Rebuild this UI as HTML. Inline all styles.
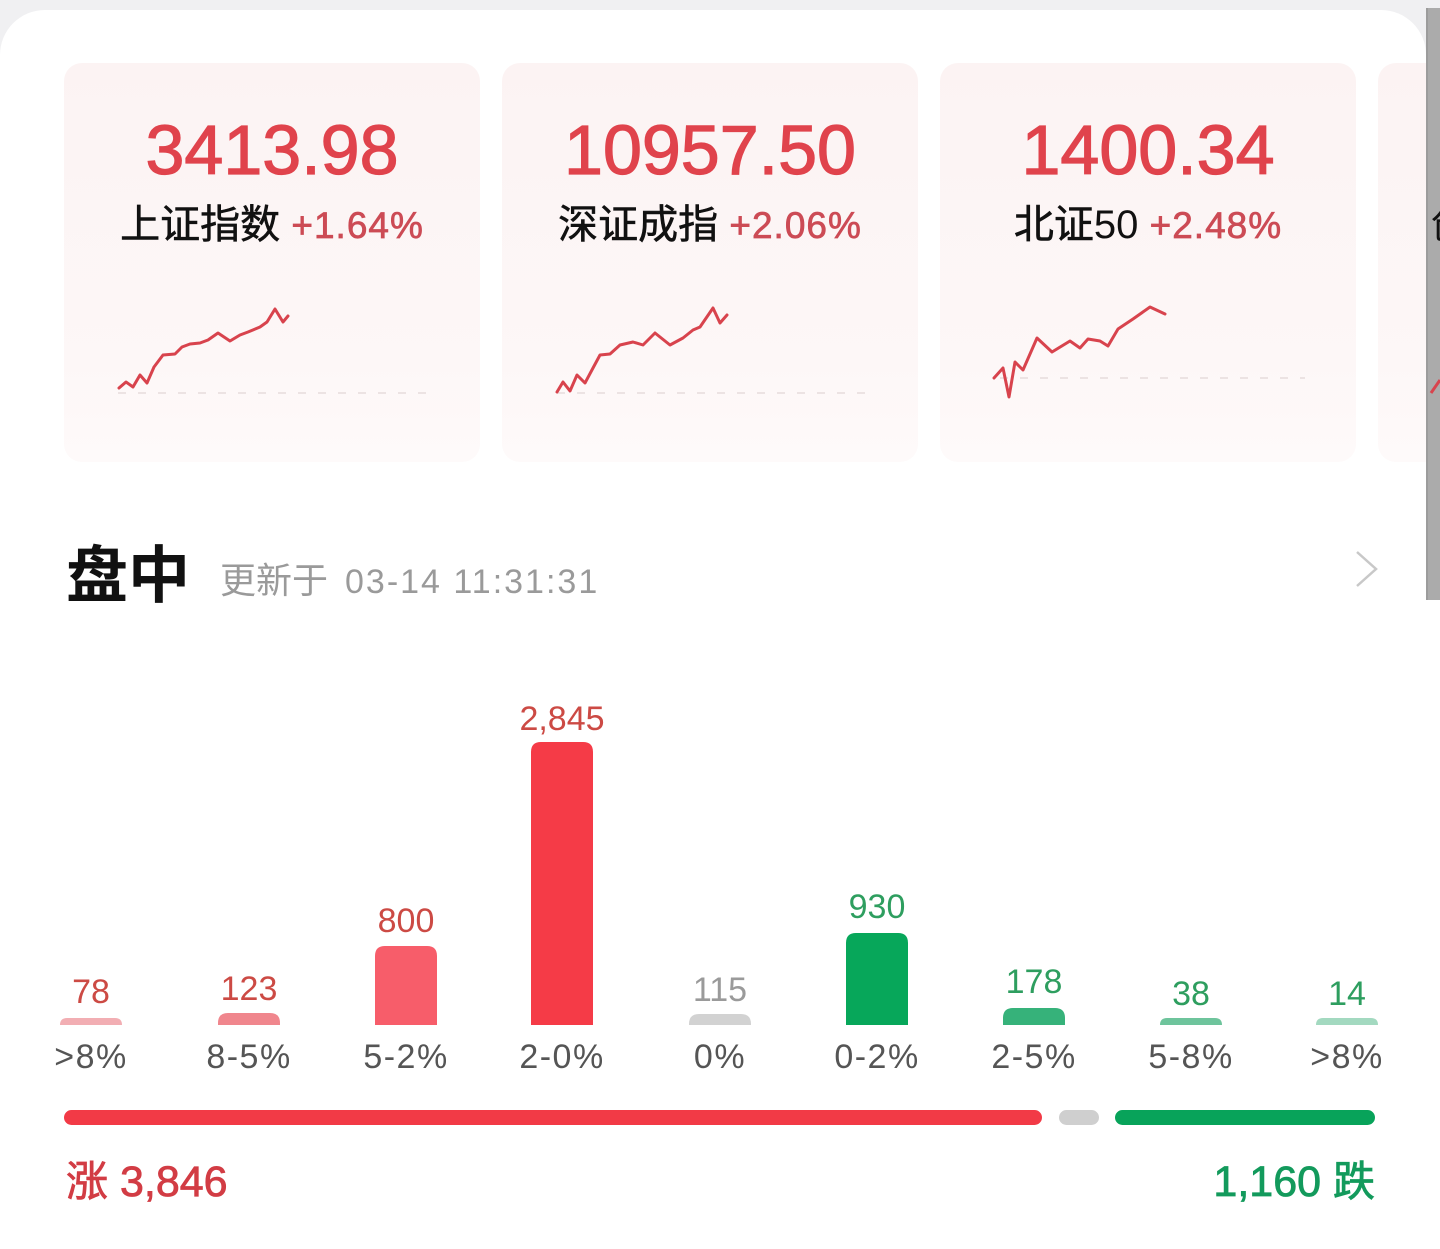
<!DOCTYPE html>
<html><head><meta charset="utf-8">
<style>
html,body{margin:0;padding:0;background:#fff;}
svg{display:block;}
text{font-family:"Liberation Sans","Noto Sans CJK SC",sans-serif;}
</style></head>
<body>
<svg width="1440" height="1249" viewBox="0 0 1440 1249" xmlns="http://www.w3.org/2000/svg">
<defs>
<linearGradient id="cg" x1="0" y1="0" x2="0" y2="1">
<stop offset="0" stop-color="#fcf3f3"/>
<stop offset="0.75" stop-color="#fdf7f7"/>
<stop offset="1" stop-color="#fefafa"/>
</linearGradient>
</defs>
<rect x="0" y="0" width="1440" height="1249" fill="#f0f0f2"/>
<rect x="0" y="10" width="1426" height="1300" rx="45" ry="45" fill="#ffffff"/>
<rect x="1426" y="600" width="14" height="649" fill="#ffffff"/>

<!-- cards -->
<rect x="64" y="63" width="416" height="399" rx="18" fill="url(#cg)"/>
<rect x="502" y="63" width="416" height="399" rx="18" fill="url(#cg)"/>
<rect x="940" y="63" width="416" height="399" rx="18" fill="url(#cg)"/>
<rect x="1378" y="63" width="416" height="399" rx="18" fill="url(#cg)"/>

<!-- big numbers -->
<g stroke="#e0434c" stroke-width="1.2">
<text x="272" y="174" font-size="70" fill="#e0434c" text-anchor="middle">3413.98</text>
<text x="710" y="174" font-size="70" fill="#e0434c" text-anchor="middle">10957.50</text>
<text x="1148" y="174" font-size="70" fill="#e0434c" text-anchor="middle">1400.34</text>
</g>

<!-- subtitles -->
<text x="272" y="238" text-anchor="middle"><tspan font-size="40" fill="#111" stroke="#111" stroke-width="0.6" font-family="'Noto Sans CJK SC',sans-serif">上证指数</tspan><tspan font-size="37" fill="#cc4b55" stroke="#cc4b55" stroke-width="0.7" letter-spacing="1"> +1.64%</tspan></text>
<text x="710" y="238" text-anchor="middle"><tspan font-size="40" fill="#111" stroke="#111" stroke-width="0.6" font-family="'Noto Sans CJK SC',sans-serif">深证成指</tspan><tspan font-size="37" fill="#cc4b55" stroke="#cc4b55" stroke-width="0.7" letter-spacing="1"> +2.06%</tspan></text>
<text x="1148" y="238" text-anchor="middle"><tspan font-size="40" fill="#111" stroke="#111" stroke-width="0.6" font-family="'Noto Sans CJK SC',sans-serif">北证</tspan><tspan font-size="40" fill="#111">50</tspan><tspan font-size="37" fill="#cc4b55" stroke="#cc4b55" stroke-width="0.7" letter-spacing="1"> +2.48%</tspan></text>

<!-- dashed baselines -->
<line x1="118" y1="393" x2="430" y2="393" stroke="#e6dcdc" stroke-width="1.5" stroke-dasharray="8 12"/>
<line x1="557" y1="393" x2="870" y2="393" stroke="#e6dcdc" stroke-width="1.5" stroke-dasharray="8 12"/>
<line x1="1000" y1="378" x2="1305" y2="378" stroke="#e6dcdc" stroke-width="1.5" stroke-dasharray="8 12"/>

<!-- sparklines -->
<polyline fill="none" stroke="#d8434d" stroke-width="3" stroke-linejoin="round" stroke-linecap="round"
points="119,388 126,382 133,387 140,375 147,383 154,367 163,355 175,354 182,347 190,344 200,343 208,340 218,333 230,341 240,335 248,332 260,327 267,322 275,309 283,322 288,316"/>
<polyline fill="none" stroke="#d8434d" stroke-width="3" stroke-linejoin="round" stroke-linecap="round"
points="557,392 563,382 570,391 577,375 585,383 593,368 600,355 610,354 620,345 633,342 643,345 655,333 670,345 683,338 693,330 700,327 713,308 720,323 727,315"/>
<polyline fill="none" stroke="#d8434d" stroke-width="3" stroke-linejoin="round" stroke-linecap="round"
points="994,378 1003,368 1009,397 1015,362 1023,370 1037,338 1052,352 1070,341 1080,348 1088,339 1100,341 1108,346 1118,329 1133,319 1150,307 1165,314"/>

<!-- right gray band -->
<rect x="1426" y="8" width="14" height="592" fill="#ababab"/>
<rect x="1426" y="8" width="2" height="592" fill="#9c9c9c"/>
<text x="1431" y="238" font-size="40" fill="#111" font-family="'Noto Sans CJK SC',sans-serif">创业板指</text>
<polyline fill="none" stroke="#d8434d" stroke-width="3" points="1431,393 1440,380"/>

<!-- title -->
<text x="66" y="597" font-size="62" font-weight="bold" fill="#111" font-family="'Noto Sans CJK SC',sans-serif">盘中</text>
<text x="220" y="593" font-size="36" fill="#9a9a9a" font-family="'Noto Sans CJK SC',sans-serif">更新于</text>
<text x="345" y="593" font-size="34" fill="#9a9a9a" letter-spacing="2">03-14 11:31:31</text>
<polyline fill="none" stroke="#c8c8c8" stroke-width="2.5" points="1357,552 1376,569 1357,586"/>

<!-- bars -->
<path d="M60 1025 V1025 Q60 1018 67 1018 H115 Q122 1018 122 1025 Z" fill="#f2aeb3"/>
<path d="M218 1025 V1023 Q218 1013 228 1013 H270 Q280 1013 280 1023 V1025 Z" fill="#f0868d"/>
<path d="M375 1025 V956 Q375 946 385 946 H427 Q437 946 437 956 V1025 Z" fill="#f75d6a"/>
<path d="M531 1025 V752 Q531 742 541 742 H583 Q593 742 593 752 V1025 Z" fill="#f53b47"/>
<path d="M689 1025 V1024 Q689 1014 699 1014 H741 Q751 1014 751 1024 V1025 Z" fill="#d2d2d2"/>
<path d="M846 1025 V943 Q846 933 856 933 H898 Q908 933 908 943 V1025 Z" fill="#07a75a"/>
<path d="M1003 1025 V1018 Q1003 1008 1013 1008 H1055 Q1065 1008 1065 1018 V1025 Z" fill="#36b27a"/>
<path d="M1160 1025 V1025 Q1160 1018 1167 1018 H1215 Q1222 1018 1222 1025 Z" fill="#6ec49c"/>
<path d="M1316 1025 V1025 Q1316 1018 1323 1018 H1371 Q1378 1018 1378 1025 Z" fill="#a3d9c0"/>

<!-- value labels -->
<g font-size="34" text-anchor="middle">
<text x="91" y="1003" fill="#cc4a44">78</text>
<text x="249" y="1000" fill="#cc4a44">123</text>
<text x="406" y="932" fill="#cc4a44">800</text>
<text x="562" y="730" fill="#cc4a44">2,845</text>
<text x="720" y="1001" fill="#9a9a9a">115</text>
<text x="877" y="918" fill="#2e9e5f">930</text>
<text x="1034" y="993" fill="#2e9e5f">178</text>
<text x="1191" y="1005" fill="#2e9e5f">38</text>
<text x="1347" y="1005" fill="#2e9e5f">14</text>
</g>

<!-- category labels -->
<g font-size="34" text-anchor="middle" fill="#555" letter-spacing="1.5">
<text x="91" y="1068">&gt;8%</text>
<text x="249" y="1068">8-5%</text>
<text x="406" y="1068">5-2%</text>
<text x="562" y="1068">2-0%</text>
<text x="720" y="1068">0%</text>
<text x="877" y="1068">0-2%</text>
<text x="1034" y="1068">2-5%</text>
<text x="1191" y="1068">5-8%</text>
<text x="1347" y="1068">&gt;8%</text>
</g>

<!-- progress bar -->
<rect x="64" y="1110" width="978" height="15" rx="7.5" fill="#f23a46"/>
<rect x="1059" y="1110" width="40" height="15" rx="7.5" fill="#cfcfcf"/>
<rect x="1115" y="1110" width="260" height="15" rx="7.5" fill="#08a35a"/>

<!-- totals -->
<text x="66" y="1196" fill="#d23c44" stroke="#d23c44" stroke-width="0.8"><tspan font-size="42" font-family="'Noto Sans CJK SC',sans-serif">涨</tspan><tspan font-size="43"> 3,846</tspan></text>
<text x="1375" y="1196" fill="#139a5c" stroke="#139a5c" stroke-width="0.8" text-anchor="end"><tspan font-size="43">1,160 </tspan><tspan font-size="42" font-family="'Noto Sans CJK SC',sans-serif">跌</tspan></text>
</svg>
</body></html>
